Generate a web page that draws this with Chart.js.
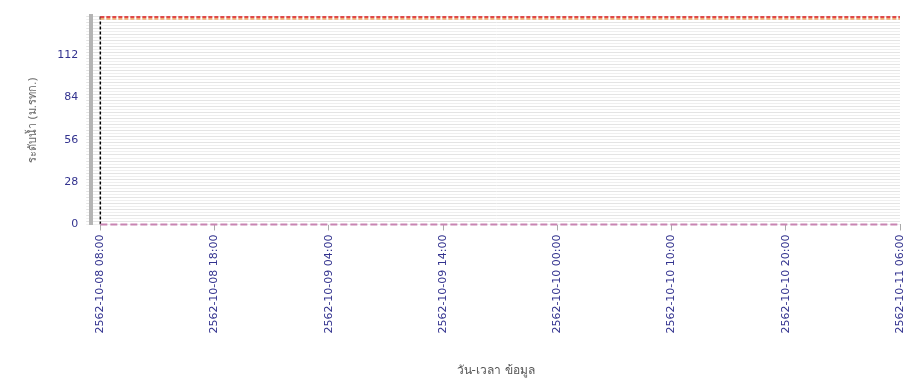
<!DOCTYPE html>
<html>
<head>
<meta charset="utf-8">
<script src="https://cdn.jsdelivr.net/npm/chart.js@4"></script>
<style>
  html, body { margin: 0; padding: 0; background: #fff; }
  #wrap { width: 904px; height: 384px; }
</style>
</head>
<body>
<div id="wrap"><canvas id="level" width="904" height="384"></canvas></div>
<script>
// hours since first label, one tick every 10 hours
var tickHours = [0, 10, 20, 30, 40, 50, 60, 70];
var tickLabels = ["2562-10-08 08:00", "2562-10-08 18:00", "2562-10-09 04:00", "2562-10-09 14:00",
                  "2562-10-10 00:00", "2562-10-10 10:00", "2562-10-10 20:00", "2562-10-11 06:00"];
var yTicks = [0, 28, 56, 84, 112];

// reference levels (ม.รทก.)
var bankLevel = [137.3, 137.3];
var alertLevel = [136.2, 136.2];
var bottomLevel = [0, 0];
var levelHours = [0, 70];

// marker of the first reading
var nowHour = [0, 0];
var nowLevel = [0, 138];

var blue = '#33338f';
var fontFam = "'DejaVu Sans', Tahoma, sans-serif";

function pairs(xs, ys) {
    return xs.map(function (x, i) { return { x: x, y: ys[i] }; });
}

var ctx = document.getElementById('level').getContext('2d');

var chart = new Chart(ctx, {
    type: 'line',
    data: {
        datasets: [
            { label: 'ตลิ่ง', data: pairs(levelHours, bankLevel), borderColor: '#e04848', borderWidth: 2, borderDash: [4, 2], pointRadius: 0 },
            { label: 'เตือนภัย', data: pairs(levelHours, alertLevel), borderColor: '#eeaa70', borderWidth: 2, borderDash: [4, 2], pointRadius: 0 },
            { label: 'ท้องน้ำ', data: pairs(levelHours, bottomLevel), borderColor: '#c884b2', borderWidth: 2, borderDash: [7, 3], pointRadius: 0, clip: false },
            { label: 'ปัจจุบัน', data: pairs(nowHour, nowLevel), borderColor: '#000', borderWidth: 1.5, borderDash: [3, 2], pointRadius: 0 }
        ]
    },
    options: {
        responsive: false,
        animation: false,
        layout: { padding: { top: 16, right: 0, left: 27, bottom: 4 } },
        plugins: {
            legend: { display: false },
            tooltip: { enabled: false }
        },
        scales: {
            x: {
                type: 'linear',
                min: -0.8,
                max: 70,
                afterBuildTicks: function (axis) {
                    axis.ticks = tickHours.map(function (h) { return { value: h }; });
                },
                afterFit: function (axis) {
                    axis.paddingRight = 4;
                },
                ticks: {
                    autoSkip: false,
                    maxRotation: 90,
                    minRotation: 90,
                    color: blue,
                    font: { family: fontFam, size: 11 },
                    padding: 4,
                    callback: function (v) {
                        var i = tickHours.indexOf(v);
                        return i >= 0 ? tickLabels[i] : '';
                    }
                },
                grid: { display: true, drawOnChartArea: false, tickLength: 6, color: '#aaa' },
                border: { display: false },
                title: {
                    display: true,
                    text: 'วัน-เวลา ข้อมูล',
                    color: '#555',
                    font: { family: fontFam, size: 12 },
                    padding: { top: 26, bottom: 2 }
                }
            },
            y: {
                min: 0,
                max: 138,
                afterBuildTicks: function (axis) {
                    var t = [];
                    for (var v = 0; v <= 138; v += 2) t.push({ value: v });
                    axis.ticks = t;
                },
                ticks: {
                    autoSkip: false,
                    color: blue,
                    font: { family: fontFam, size: 11 },
                    padding: 8,
                    callback: function (v) {
                        return yTicks.indexOf(v) >= 0 ? String(v) : '';
                    }
                },
                grid: {
                    color: function (c) { return c.index % 2 ? '#e4e4e4' : '#efefef'; },
                    tickLength: 5,
                    lineWidth: 1
                },
                border: { display: true, color: '#b4b4b4', width: 4 },
                title: {
                    display: true,
                    text: 'ระดับน้ำ (ม.รทก.)',
                    color: '#666',
                    font: { family: fontFam, size: 11 },
                    padding: { top: 0, bottom: 9 }
                }
            }
        }
    }
});
</script>
</body>
</html>
